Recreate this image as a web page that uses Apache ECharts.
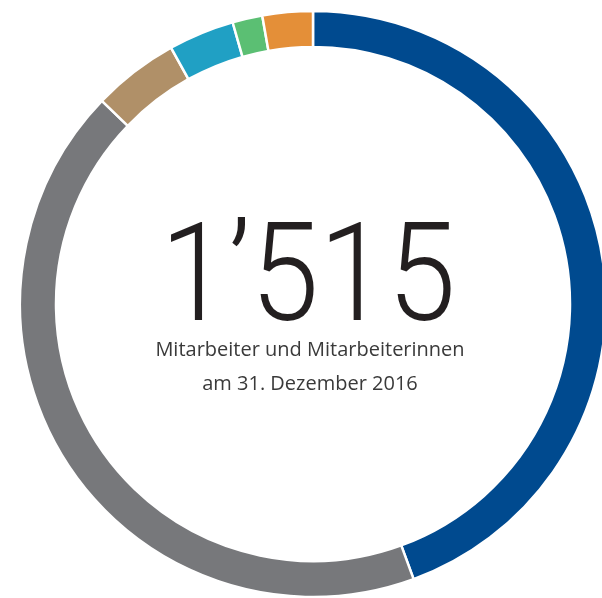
<!DOCTYPE html>
<html><head><meta charset="utf-8">
<script src="https://cdn.jsdelivr.net/npm/echarts@6/dist/echarts.min.js"></script>
<style>html,body{margin:0;padding:0;background:#fff}#c{width:602px;height:598px}</style>
</head><body><div id="c"></div>
<script>
const categories = ['Blau', 'Grau', 'Braun', 'Hellblau', 'Grün', 'Orange'];
const values = [673, 648, 72, 55, 25, 42];
const colors = ['#004a8f', '#77787b', '#b09068', '#20a0c4', '#5bbf73', '#e48f38'];
const totalLabel = '1’515';
const line1 = 'Mitarbeiter und Mitarbeiterinnen';
const line2 = 'am 31. Dezember 2016';

const chart = echarts.init(document.getElementById('c'));
chart.setOption({
  animation: false,
  series: [{
    type: 'pie',
    radius: [257, 293],
    center: [313, 304],
    startAngle: 90,
    clockwise: true,
    silent: true,
    label: { show: false },
    labelLine: { show: false },
    itemStyle: { borderColor: '#fff', borderWidth: 2.5 },
    data: categories.map((c, i) => ({ name: c, value: values[i], itemStyle: { color: colors[i] } }))
  }],
  graphic: [
    { type: 'text', x: 308, y: 286, scaleX: 0.9, style: { text: totalLabel, font: '300 137px Roboto', fill: '#231f20', textAlign: 'center', textVerticalAlign: 'middle' } },
    { type: 'text', x: 310, y: 350.5, style: { text: line1, font: '400 20px "Open Sans"', fill: '#3a3a3a', textAlign: 'center', textVerticalAlign: 'middle' } },
    { type: 'text', x: 310, y: 384, style: { text: line2, font: '400 20px "Open Sans"', fill: '#3a3a3a', textAlign: 'center', textVerticalAlign: 'middle' } }
  ]
});
</script></body></html>
